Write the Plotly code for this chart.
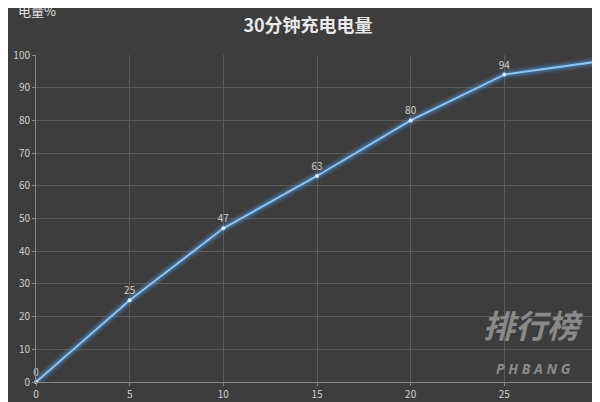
import plotly.graph_objects as go

minutes = [0, 5, 10, 15, 20, 25, 30]
charge = [0, 25, 47, 63, 80, 94, 98]
x_ticks = [0, 5, 10, 15, 20, 25, 30]
y_ticks = list(range(0, 101, 10))

bg = '#3d3d3d'
grid = '#5a5a5a'
txt = '#cfcfcf'

fig = go.Figure()

# glow layers under the line
for w, op in [(10, 0.12), (6, 0.25)]:
    fig.add_trace(go.Scatter(x=minutes, y=charge, mode='lines',
                             line=dict(color='#4da6ff', width=w),
                             opacity=op, hoverinfo='skip', showlegend=False))

fig.add_trace(go.Scatter(x=minutes, y=charge, mode='lines+markers+text',
                         line=dict(color='#8cc4f0', width=2),
                         marker=dict(color='#d8ecff', size=4),
                         text=[str(v) for v in charge], textposition='top center',
                         textfont=dict(color=txt, size=10, family='Noto Sans CJK SC'),
                         showlegend=False, cliponaxis=False))

fig.update_layout(
    width=600, height=402,
    paper_bgcolor=bg, plot_bgcolor=bg,
    margin=dict(l=28, r=10, t=47, b=28),
    title=dict(text='<b>30分钟充电电量</b>', x=0.5, xanchor='center',
               yref='container', y=0.955, yanchor='middle',
               font=dict(color='#e8e8e8', size=18, family='Noto Sans CJK SC')),
    font=dict(family='Noto Sans CJK SC', color=txt, size=10),
    xaxis=dict(range=[0, 30], tickvals=x_ticks, showgrid=True, gridcolor=grid,
               zeroline=False, showline=True, linecolor='#888888', automargin=False,
               ticks='outside', ticklen=3, tickcolor='#888888',
               tickfont=dict(color=txt, size=10)),
    yaxis=dict(range=[0, 100], tickvals=y_ticks, showgrid=True, gridcolor=grid,
               zeroline=False, showline=True, linecolor='#888888', automargin=False,
               ticks='outside', ticklen=3, tickcolor='#888888',
               tickfont=dict(color=txt, size=10)),
    annotations=[
        dict(text='电量%', xref='paper', yref='paper', x=-0.035, y=1.1,
             xanchor='left', yanchor='bottom', showarrow=False,
             font=dict(color='#e0e0e0', size=13, family='Noto Sans CJK SC')),
        dict(text='<b><i>排行榜</i></b>', xref='paper', yref='paper', x=0.885, y=0.1,
             xanchor='center', showarrow=False,
             font=dict(color='#8a8a8a', size=32, family='Noto Sans CJK SC')),
        dict(text='<b><i>P H B A N G</i></b>', xref='paper', yref='paper', x=0.885, y=0.005,
             xanchor='center', showarrow=False,
             font=dict(color='#8a8a8a', size=14, family='Noto Sans')),
    ],
)

fig.write_html('out.html')
